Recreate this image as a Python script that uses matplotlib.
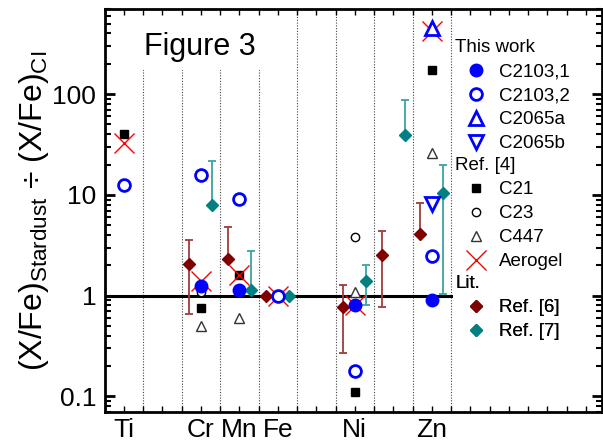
import numpy as np
import matplotlib
matplotlib.use("Agg")
import matplotlib.pyplot as plt
from matplotlib.patches import Rectangle
from matplotlib.ticker import LogLocator, NullFormatter

plt.rcParams['font.family'] = ['Liberation Sans', 'DejaVu Sans']
plt.rcParams['mathtext.fontset'] = 'custom'
plt.rcParams['mathtext.rm'] = 'Liberation Sans'
plt.rcParams['mathtext.it'] = 'Liberation Sans:italic'

nan = np.nan

# atomic number of each element column (Ti ... Zn)
z = np.array([22, 23, 24, 25, 26, 27, 28, 29, 30])
tick_z = [22, 24, 25, 26, 28, 30]
tick_labels = ['Ti', 'Cr', 'Mn', 'Fe', 'Ni', 'Zn']

# this work
c2103_1 = [nan, nan, 1.24, 1.15, nan, nan, 0.80, nan, 0.91]
c2103_2 = [12.6, nan, 15.9, 9.2, 1.0, nan, 0.18, nan, 2.45]
c2065a = [nan, nan, nan, nan, nan, nan, nan, nan, 450]
c2065b = [nan, nan, nan, nan, nan, nan, nan, nan, 8.2]
# Ref. [4]
c21 = [40, nan, 0.75, 1.6, nan, nan, 0.11, nan, 175]
c23 = [nan, nan, 1.08, nan, nan, nan, 3.8, nan, nan]
c447 = [nan, nan, 0.50, 0.60, nan, nan, 1.08, nan, 26]
aerogel = [33, nan, 1.40, 1.60, 1.0, nan, 0.80, nan, 420]
# literature, with error ranges
ref6 = [nan, nan, 2.08, 2.31, 1.0, nan, 0.77, 2.55, 4.06]
ref6_hi = [nan, nan, 3.54, 4.8, nan, nan, 1.29, 4.35, 8.4]
ref6_lo = [nan, nan, 0.66, 2.31, nan, nan, 0.27, 0.77, 4.06]
ref7 = [nan, nan, 8.0, 1.15, 1.0, nan, 1.41, 39.6, 10.4]
ref7_hi = [nan, nan, 21.5, 2.75, nan, nan, 2.03, 88, 19.6]
ref7_lo = [nan, nan, 8.0, 1.15, nan, nan, 0.80, 39.6, 1.05]

fig = plt.figure(figsize=(6.03, 4.42), dpi=100)
ax = fig.add_axes([104.5 / 603, 30 / 442, 497.5 / 603, 403 / 442])
ax.set_yscale('log')
ax.set_xlim(21.5, 34.42)
ax.set_ylim(0.07, 700)

# element separators and reference line
for xb in np.arange(22.5, 31, 1.0):
    ax.axvline(xb, color='#444444', lw=0.8, ls=(0, (1, 1.5)), zorder=1)
ax.plot([21.5, 30.5], [1, 1], color='black', lw=2.2, zorder=2)

blue = '#0000ff'
off6 = 0.3
h = {}
h['C21'], = ax.plot(z, c21, 's', color='black', ms=6, zorder=3)
h['C23'], = ax.plot(z, c23, 'o', mfc='white', mec='black', mew=1, ms=6, zorder=3)
h['C447'], = ax.plot(z, c447, '^', mfc='white', mec='#333333', mew=1, ms=7, zorder=3)
h['Aerogel'], = ax.plot(z, aerogel, 'x', color='red', ms=15, mew=1, zorder=4)
h['C2103,1'], = ax.plot(z, c2103_1, 'o', color=blue, ms=9, zorder=5)
h['C2103,2'], = ax.plot(z, c2103_2, 'o', mfc='white', mec=blue, mew=2, ms=8.5, zorder=5)
h['C2065a'], = ax.plot(z, c2065a, '^', mfc='white', mec=blue, mew=2, ms=10, zorder=5)
h['C2065b'], = ax.plot(z, c2065b, 'v', mfc='white', mec=blue, mew=2, ms=10, zorder=5)

for vals, lo, hi, off, col, ecol, name in [
        (ref6, ref6_lo, ref6_hi, -off6, '#800000', '#a03c3c', 'Ref. [6]'),
        (ref7, ref7_lo, ref7_hi, off6, '#008080', '#3aa3a3', 'Ref. [7]')]:
    v = np.array(vals)
    yerr = [v - np.array(lo), np.array(hi) - v]
    ax.errorbar(z + off, v, yerr=yerr, fmt='none', ecolor=ecol, elinewidth=1.3,
                capsize=3, capthick=1.3, zorder=3)
    h[name], = ax.plot(z + off, v, 'D', color=col, ms=6, zorder=4)

# "Figure 3" label with white backing over the separators
ax.add_patch(Rectangle((23 / 497.5, 1 - 61 / 403), 144 / 497.5, 61 / 403,
                       transform=ax.transAxes, facecolor='white', edgecolor='none',
                       zorder=1.5))
ax.text(0.192, 0.906, 'Figure 3', transform=ax.transAxes, ha='center', va='center',
        fontsize=22, zorder=2.4)

# ticks
ax.set_xticks(tick_z, tick_labels)
ax.set_xticks(np.arange(21.5, 34.5, 0.5), minor=True)
ax.tick_params(axis='x', which='both', direction='in', top=True, length=4, width=1,
               labelsize=19, pad=4)
ax.set_yticks([0.1, 1, 10, 100], ['0.1', '1', '10', '100'])
ax.yaxis.set_minor_locator(LogLocator(base=10, subs=np.arange(2, 10)))
ax.yaxis.set_minor_formatter(NullFormatter())
ax.tick_params(axis='y', which='major', direction='in', right=True, length=7, width=2,
               labelsize=19, pad=6)
ax.tick_params(axis='y', which='minor', direction='in', right=True, length=4, width=1.5)
for sp in ax.spines.values():
    sp.set_linewidth(2)

ax.set_ylabel(r'(X/Fe)$_{\mathrm{Stardust}}$ ÷ (X/Fe)$_{\mathrm{CI}}$', fontsize=23,
              labelpad=1)

# grouped legend
groups = [('This work', ['C2103,1', 'C2103,2', 'C2065a', 'C2065b']),
          ('Ref. [4]', ['C21', 'C23', 'C447', 'Aerogel']),
          ('Lit.', ['Ref. [6]', 'Ref. [7]'])]
pitch = 23.6 / 403
top = 1 - (39 - 9) / 403
row = 0
for title, names in groups:
    leg = ax.legend([h[n] for n in names], names, title=title, loc='upper left',
                    bbox_to_anchor=(0.705, top - row * pitch), frameon=False,
                    fontsize=13.5, title_fontsize=13.5, alignment='left',
                    borderpad=0, borderaxespad=0, handlelength=2.24,
                    handletextpad=0.1, labelspacing=0.37, numpoints=1)
    ax.add_artist(leg)
    row += len(names) + 1

fig.savefig('out.png', dpi=100)
